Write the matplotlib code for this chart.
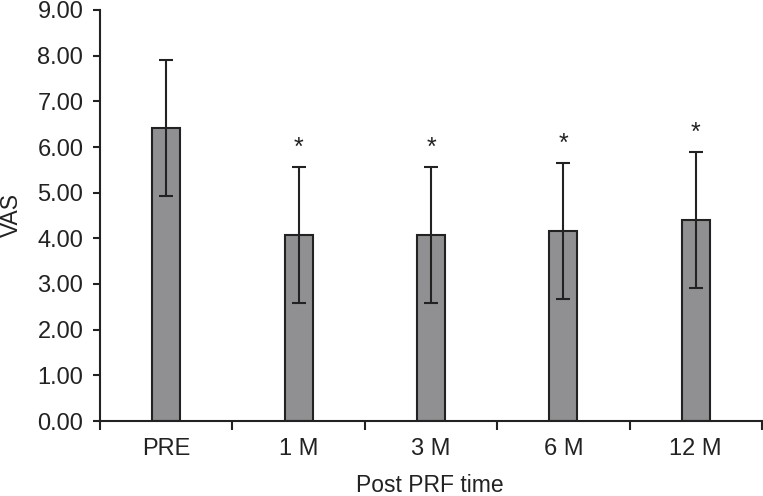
import matplotlib
matplotlib.use("Agg")
import matplotlib.pyplot as plt
import numpy as np

categories = ["PRE", "1 M", "3 M", "6 M", "12 M"]
means = [6.41, 4.08, 4.08, 4.16, 4.40]
errors = [1.49, 1.49, 1.49, 1.49, 1.49]
significant = [False, True, True, True, True]
yticks = [0, 1, 2, 3, 4, 5, 6, 7, 8, 9]

plt.rcParams['font.family'] = ['Liberation Sans', 'DejaVu Sans']

W, H = 763, 496
fig = plt.figure(figsize=(W / 100, H / 100), dpi=100)
ax = fig.add_axes([100 / W, 1 - 421 / H, 662 / W, 411 / H])

x = np.arange(len(categories))
ax.bar(x, means, width=0.21, color="#909093", edgecolor="#222222", linewidth=1.5, zorder=2)
ax.errorbar(x, means, yerr=errors, fmt="none", ecolor="#222222", elinewidth=1.5,
            capsize=5, capthick=1.5, zorder=3)
for xi, m, e, s in zip(x, means, errors, significant):
    if s:
        ax.text(xi, m + e + 0.26, "*", ha="center", va="baseline", fontsize=18, color="#222222")

ax.set_xlim(-0.5, len(categories) - 0.5)
ax.set_ylim(0, 9)
ax.set_yticks(yticks)
ax.set_yticklabels([f"{v:.2f}" for v in yticks])
ax.set_xticks(x)
ax.set_xticklabels(categories)
ax.set_xticks(np.arange(len(categories) + 1) - 0.5, minor=True)

for side in ["top", "right"]:
    ax.spines[side].set_visible(False)
for side in ["left", "bottom"]:
    ax.spines[side].set_linewidth(1.5)
    ax.spines[side].set_color("#222222")

ax.tick_params(axis="y", direction="out", length=5, width=1.5, pad=7, labelsize=17,
               color="#222222", labelcolor="#222222")
ax.tick_params(axis="x", which="major", length=0, pad=12.5, labelsize=17, labelcolor="#222222")
ax.tick_params(axis="x", which="minor", direction="out", length=6.5, width=1.5, color="#222222")

fig.text(11 / W, 1 - 215 / H, "VAS", rotation=90, ha="center", va="center",
         fontsize=16.5, color="#222222")
fig.text(430 / W, 1 - 492 / H, "Post PRF time", ha="center", va="baseline",
         fontsize=16.5, color="#222222")

fig.savefig("out.png", dpi=100)
